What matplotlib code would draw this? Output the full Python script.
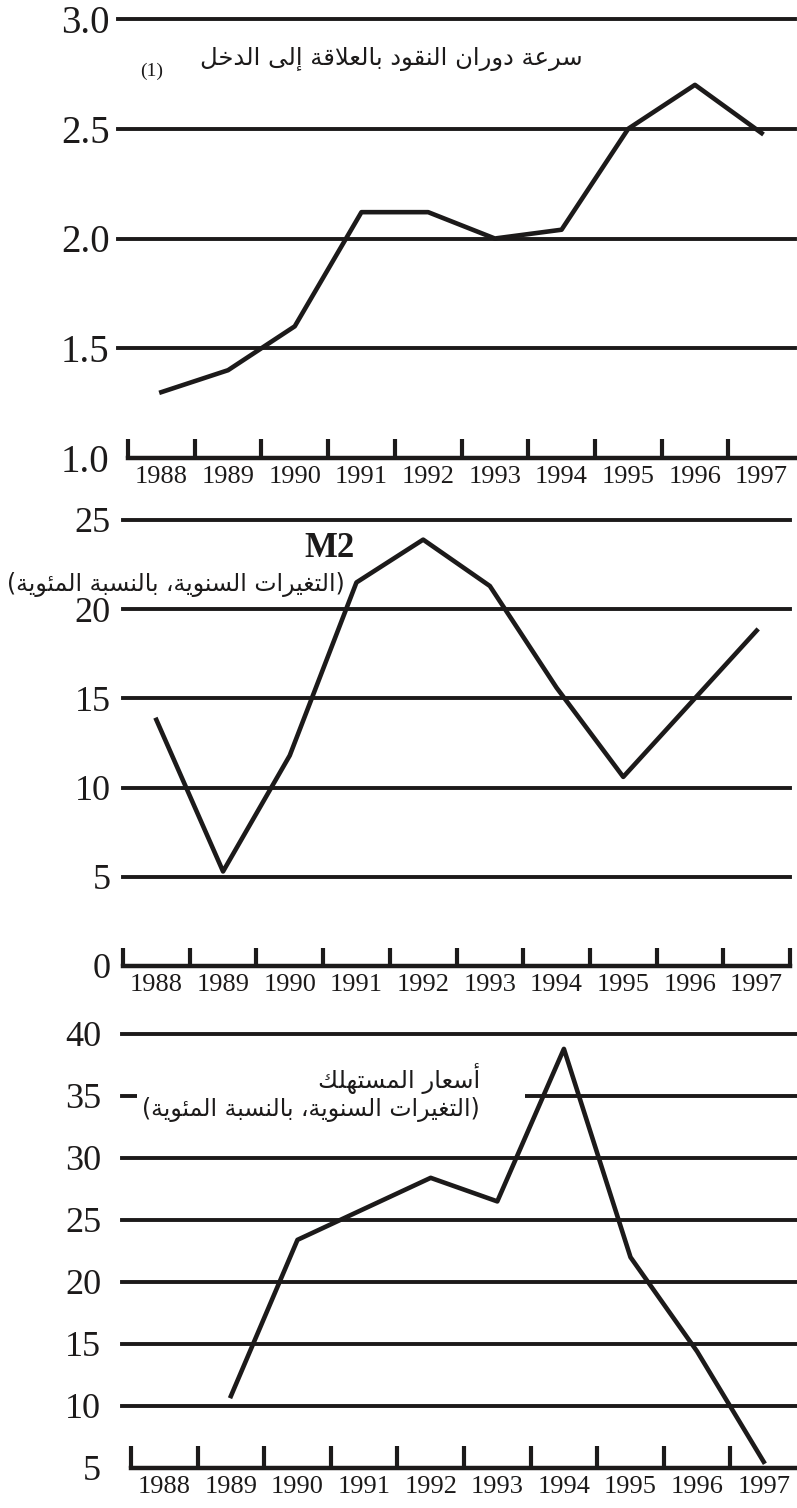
import matplotlib

matplotlib.use("Agg")
import matplotlib.pyplot as plt
import numpy as np
from matplotlib.patches import Rectangle

# data
years = ["1988", "1989", "1990", "1991", "1992", "1993", "1994", "1995", "1996", "1997"]
velocity = [1.3, 1.4, 1.6, 2.12, 2.12, 2.0, 2.04, 2.5, 2.7, 2.48]
m2_growth = [13.8, 5.3, 11.8, 21.5, 23.9, 21.3, 15.6, 10.6, 14.7, 18.8]
cpi_growth = [np.nan, 10.8, 23.4, 25.9, 28.4, 26.5, 38.8, 22.0, 14.4, 5.5]

velocity_ticks = [1.0, 1.5, 2.0, 2.5, 3.0]
velocity_tick_labels = ["1.0", "1.5", "2.0", "2.5", "3.0"]
m2_ticks = [0, 5, 10, 15, 20, 25]
m2_tick_labels = ["0", "5", "10", "15", "20", "25"]
cpi_ticks = [5, 10, 15, 20, 25, 30, 35, 40]
cpi_tick_labels = ["5", "10", "15", "20", "25", "30", "35", "40"]

title_velocity = "سرعة دوران النقود بالعلاقة إلى الدخل"
note_velocity = "(1)"
title_m2 = "M2"
subtitle_change = "(التغيرات السنوية، بالنسبة المئوية)"
title_cpi = "أسعار المستهلك"

INK = "#1c1a1a"
SERIF = "Liberation Serif"
ARABIC = ["DejaVu Sans"]

# --- tiny arabic shaper: matplotlib has no bidi/shaping of its own ---
FORMS = {}
_code = 0xFE80
for _ch, _n in zip("ءآأؤإئابةتثجحخدذرزسشصضطظعغفقكلمنهوىي",
                   [1, 2, 2, 2, 2, 4, 2, 4, 2, 4, 4, 4, 4, 4, 2, 2, 2, 2,
                    4, 4, 4, 4, 4, 4, 4, 4, 4, 4, 4, 4, 4, 4, 4, 2, 2, 4]):
    FORMS[_ch] = (_code, _n)
    _code += _n
LAM_ALEF = {"آ": 0xFEF5, "أ": 0xFEF7, "إ": 0xFEF9, "ا": 0xFEFB}


def shape_arabic(text: str) -> str:
    chars = list(text)
    out = []
    i = 0
    while i < len(chars):
        c = chars[i]
        if c not in FORMS:
            out.append(c)
            i += 1
            continue
        base, n = FORMS[c]
        prev = chars[i - 1] if i > 0 else ""
        nxt = chars[i + 1] if i + 1 < len(chars) else ""
        joins_prev = prev in FORMS and FORMS[prev][1] == 4
        if c == "ل" and nxt in LAM_ALEF:
            out.append(chr(LAM_ALEF[nxt] + (1 if joins_prev else 0)))
            i += 2
            continue
        joins_next = n == 4 and nxt in FORMS
        if n == 1:
            form = base
        elif joins_prev and joins_next:
            form = base + 3
        elif joins_prev:
            form = base + 1
        elif joins_next:
            form = base + 2
        else:
            form = base
        out.append(chr(form))
        i += 1
    visual = "".join(reversed(out))
    return visual.translate(str.maketrans("()", ")("))


W, H = 797, 1508
fig = plt.figure(figsize=(W / 100, H / 100), dpi=100)


def make_axes(left_px, axis_px, right_px, top_px, bottom_px):
    ax = fig.add_axes([left_px / W, 1 - bottom_px / H, (right_px - left_px) / W, (bottom_px - top_px) / H])
    unit = (right_px - axis_px) / 10
    ax.set_xlim(-0.5 - (axis_px - left_px) / unit, 9.5)
    return ax


def style_panel(ax, ticks, labels, label_size, label_pad, tick_len, end_tick):
    ax.set_ylim(ticks[0], ticks[-1])
    for side in ("left", "right", "top"):
        ax.spines[side].set_visible(False)
    ax.spines["bottom"].set_bounds(-0.5, 9.5)
    ax.spines["bottom"].set_linewidth(3.2)
    ax.spines["bottom"].set_color(INK)
    for value in ticks[1:]:
        ax.axhline(value, color=INK, lw=2.8, clip_on=False, zorder=1)
    ax.set_yticks(ticks, labels, fontsize=label_size, family=SERIF, color=INK)
    ax.tick_params(axis="y", length=0, pad=label_pad)
    bounds = np.arange(-0.5, 10.0 if end_tick else 9.0, 1.0)
    ax.set_xticks(bounds, [""] * len(bounds))
    ax.set_xticks(range(len(years)), years, minor=True, fontsize=19, family=SERIF, color=INK)
    ax.tick_params(axis="x", which="major", direction="in", length=tick_len, width=3, color=INK)
    ax.tick_params(axis="x", which="minor", length=0, pad=6)
    ax.patch.set_alpha(0)


# panel 1: velocity of money
ax1 = make_axes(118, 128, 795, 19, 458)
style_panel(ax1, velocity_ticks, velocity_tick_labels, 28, 6, 14, False)
ax1.plot(range(len(years)), velocity, color=INK, lw=3.3, zorder=3, clip_on=False)
ax1.text(6.32, 2.82, shape_arabic(title_velocity), ha="right", va="center", fontsize=17.5,
         family=ARABIC, color=INK)
ax1.text(-0.14, 2.76, note_velocity, ha="center", va="center", fontsize=14, family=SERIF, color=INK)

# panel 2: M2
ax2 = make_axes(123, 123, 790, 520, 966)
style_panel(ax2, m2_ticks, m2_tick_labels, 26, 9, 13, True)
ax2.plot(range(len(years)), m2_growth, color=INK, lw=3.3, zorder=3, clip_on=False)
ax2.text(2.6, 23.4, title_m2, ha="center", va="center", fontsize=25, family=SERIF, fontweight="bold", color=INK)
ax2.text(2.83, 21.4, shape_arabic(subtitle_change), ha="right", va="center", fontsize=17,
         family=ARABIC, color=INK)

# panel 3: consumer prices
ax3 = make_axes(122, 131, 797, 1034, 1468)
style_panel(ax3, cpi_ticks, cpi_tick_labels, 26, 15, 16, False)
ax3.add_patch(Rectangle((-0.41, 34.2), 5.83, 1.6, facecolor="white", edgecolor="none", zorder=2))
ax3.plot(range(len(years)), cpi_growth, color=INK, lw=3.3, zorder=3, clip_on=False)
ax3.text(4.74, 36.4, shape_arabic(title_cpi), ha="right", va="center", fontsize=17.5,
         family=ARABIC, color=INK, zorder=4)
ax3.text(4.74, 33.9, shape_arabic(subtitle_change), ha="right", va="center", fontsize=17,
         family=ARABIC, color=INK, zorder=4)

fig.savefig("out.png", dpi=100)
